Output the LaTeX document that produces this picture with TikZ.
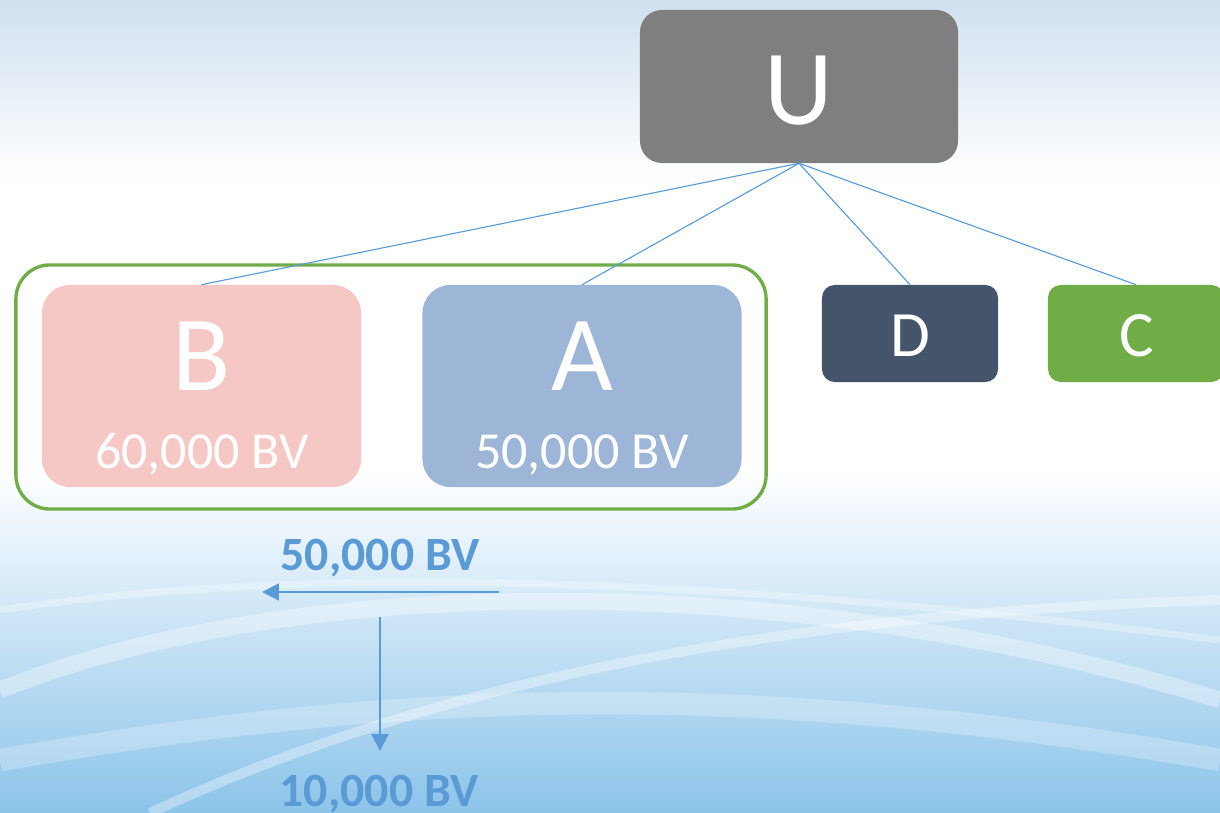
\documentclass[tikz,border=0pt]{standalone}
\usepackage{fontspec}
\setmainfont{Carlito}
\usetikzlibrary{positioning,arrows.meta}

\definecolor{ugray}{RGB}{127,127,127}
\definecolor{bpink}{RGB}{245,200,197}
\definecolor{ablue}{RGB}{157,181,214}
\definecolor{dnavy}{RGB}{68,84,106}
\definecolor{cgreen}{RGB}{112,173,71}
\definecolor{linkblue}{RGB}{91,155,213}
\definecolor{skytop}{RGB}{208,224,239}
\definecolor{skylow}{RGB}{140,196,234}

\begin{document}
\begin{tikzpicture}[
    x=0.025cm, y=-0.025cm,
    box/.style={rectangle, inner sep=0},
    topbox/.style={box, fill=ugray, minimum width=7.95cm, minimum height=3.825cm, rounded corners=0.55cm},
    bigbox/.style={box, minimum width=7.975cm, minimum height=5.05cm, rounded corners=0.7cm},
    smallbox/.style={box, minimum width=4.4cm, minimum height=2.425cm, rounded corners=0.32cm},
    groupbox/.style={box, draw=cgreen, line width=2.4pt, minimum width=18.75cm, minimum height=6.1cm, rounded corners=0.85cm},
    letter/.style={text=white, anchor=base, inner sep=0, font=\fontsize{76}{80}\selectfont},
    smallletter/.style={letter, font=\fontsize{46}{50}\selectfont},
    value/.style={letter, font=\fontsize{37}{40}\selectfont},
    amount/.style={text=linkblue, anchor=base, inner sep=0, font=\bfseries\fontsize{34}{38}\selectfont},
    link/.style={draw=linkblue, line width=0.8pt},
    flow/.style={draw=linkblue, line width=1.5pt, -{Triangle[length=0.42cm, width=0.42cm]}},
    ]
    % background
    \useasboundingbox (0,0) rectangle (1220,813);
    \shade[top color=skytop, bottom color=white] (0,0) rectangle (1220,180);
    \fill[white] (0,179) rectangle (1220,471);
    \shade[top color=white, bottom color=skylow] (0,470) rectangle (1220,813);
    \draw[white, opacity=0.35, line width=12pt] (0,690) .. controls (300,570) and (800,570) .. (1220,700);
    \draw[white, opacity=0.3, line width=5pt] (0,610) .. controls (400,550) and (900,600) .. (1220,640);
    \draw[white, opacity=0.35, line width=7pt] (150,813) .. controls (500,650) and (900,610) .. (1220,600);
    \draw[white, opacity=0.25, line width=16pt] (0,760) .. controls (350,700) and (700,670) .. (1220,760);

    % boxes
    \node[topbox] (U) at (799,86.5) {};
    \node[groupbox] (BA) at (391,387) {};
    \node[bigbox, fill=bpink] (B) at (201.5,386) {};
    \node[bigbox, fill=ablue] (A) at (582,386) {};
    \node[smallbox, fill=dnavy] (D) at (910,333.5) {};
    \node[smallbox, fill=cgreen] (C) at (1136,333.5) {};

    % links
    \draw[link] (U.south) -- (B.north);
    \draw[link] (U.south) -- (A.north);
    \draw[link] (U.south) -- (D.north);
    \draw[link] (U.south) -- (C.north);

    % labels
    \node[letter] (Ulbl) at (799,125) {U};
    \node[letter] (Blbl) at (202,390) {B};
    \node[letter] (Albl) at (582,390) {A};
    \node[value] (Bval) at (202,468) {60,000 BV};
    \node[value] (Aval) at (582,468) {50,000 BV};
    \node[smallletter] (Dlbl) at (910,356) {D};
    \node[smallletter] (Clbl) at (1137,356) {C};

    % transfer
    \node[amount] (give) at (380,570) {50,000 BV};
    \coordinate (giveR) at (499,592);
    \coordinate (giveL) at (262,592);
    \draw[flow] (giveR) -- (giveL);
    \coordinate (keepT) at (380,617);
    \coordinate (keepB) at (380,751);
    \draw[flow] (keepT) -- (keepB);
    \node[amount] (keep) at (379,806) {10,000 BV};
\end{tikzpicture}
\end{document}
